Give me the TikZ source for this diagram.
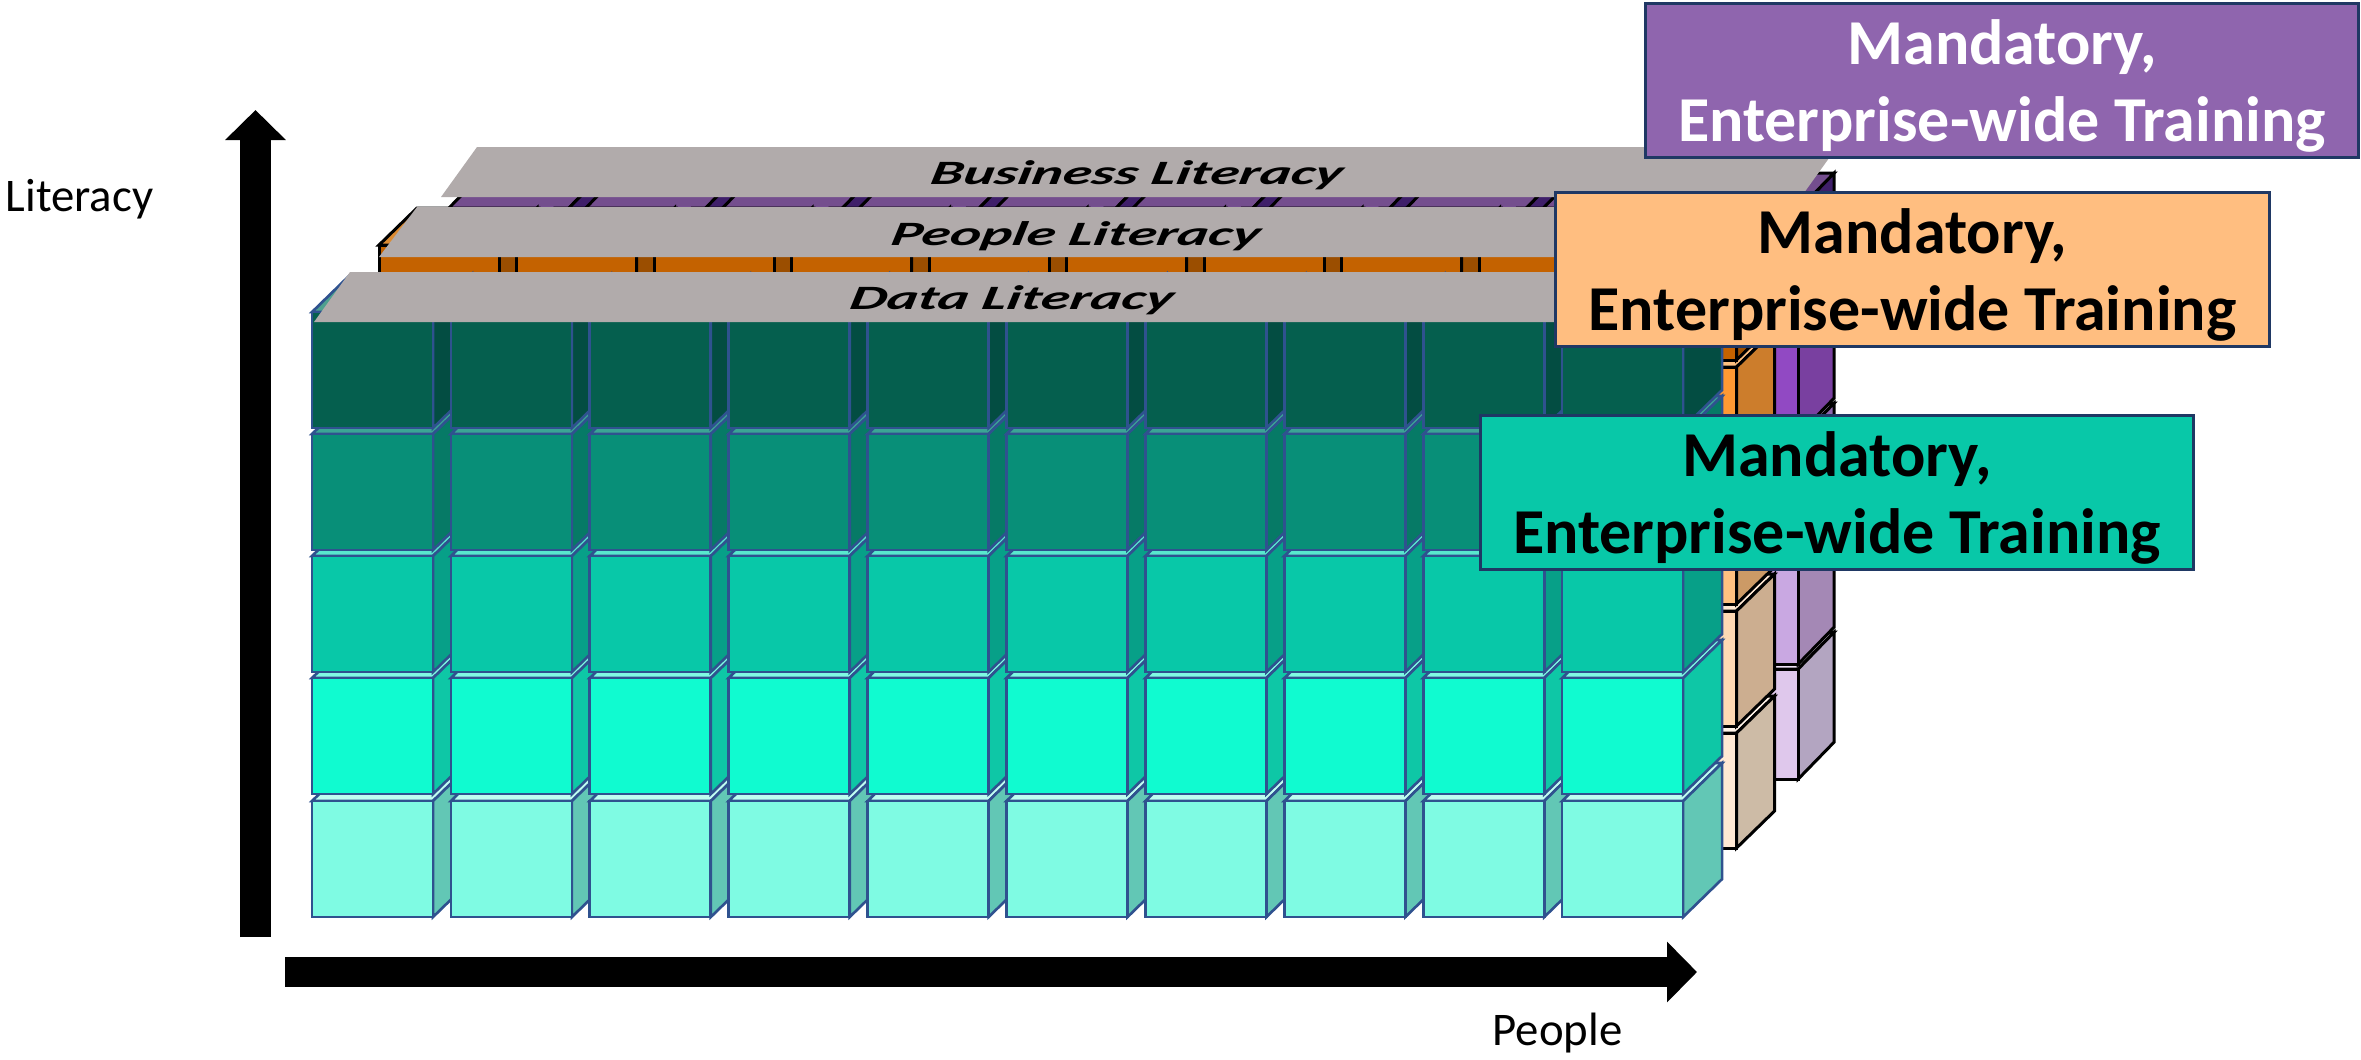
\documentclass[tikz,border=0pt]{standalone}
\usepackage{fontspec}
\setmainfont{Carlito}
\newfontface\platefont{Carlito Bold Italic}[FakeStretch=1.72,FakeSlant=0.2]
\usetikzlibrary{arrows.meta}
\definecolor{tealline}{HTML}{2F528F}
\definecolor{boxline}{HTML}{1F3864}
\definecolor{plategray}{HTML}{B1ABAB}
\definecolor{tfa}{HTML}{7FFBE3}\definecolor{tsa}{HTML}{62C7B5}\definecolor{tta}{HTML}{BFFDF1}
\definecolor{tfb}{HTML}{10FBD0}\definecolor{tsb}{HTML}{0EC7A6}\definecolor{ttb}{HTML}{7FFBE3}
\definecolor{tfc}{HTML}{08C8A8}\definecolor{tsc}{HTML}{07A088}\definecolor{ttc}{HTML}{58E8CE}
\definecolor{tfd}{HTML}{088F78}\definecolor{tsd}{HTML}{067A66}\definecolor{ttd}{HTML}{3BA595}
\definecolor{tfe}{HTML}{055F4E}\definecolor{tse}{HTML}{034D42}\definecolor{tte}{HTML}{4EA08F}
\definecolor{ofa}{HTML}{FFE8D3}\definecolor{osa}{HTML}{CDBBA6}\definecolor{ota}{HTML}{FFF3E8}
\definecolor{ofb}{HTML}{FFD9B3}\definecolor{osb}{HTML}{CCAE90}\definecolor{otb}{HTML}{FFE8D3}
\definecolor{ofc}{HTML}{FFC080}\definecolor{osc}{HTML}{CC9A66}\definecolor{otc}{HTML}{FFD9B3}
\definecolor{ofd}{HTML}{FF9933}\definecolor{osd}{HTML}{CC7D2C}\definecolor{otd}{HTML}{FFC080}
\definecolor{ofe}{HTML}{C46200}\definecolor{ose}{HTML}{9B4E00}\definecolor{ote}{HTML}{DB8B33}
\definecolor{pfa}{HTML}{DFC8EC}\definecolor{psa}{HTML}{B3A5C1}\definecolor{pta}{HTML}{EFE3F6}
\definecolor{pfb}{HTML}{C9A8E2}\definecolor{psb}{HTML}{A488B5}\definecolor{ptb}{HTML}{DFC8EC}
\definecolor{pfc}{HTML}{B07FD8}\definecolor{psc}{HTML}{8D66AD}\definecolor{ptc}{HTML}{C9A8E2}
\definecolor{pfd}{HTML}{9149C3}\definecolor{psd}{HTML}{7940A0}\definecolor{ptd}{HTML}{B07FD8}
\definecolor{pfe}{HTML}{5A2A87}\definecolor{pse}{HTML}{3F1F6A}\definecolor{pte}{HTML}{744E8E}
\definecolor{boxpurple}{HTML}{8F65AE}
\definecolor{boxorange}{HTML}{FFBE80}
\definecolor{boxteal}{HTML}{08C8A8}
\tikzset{
 plate/.style={fill=plategray,draw=none},
 platetext/.style={font=\fontsize{9.7}{10}\platefont,inner sep=0pt},
 trainbox/.style={draw=boxline,line width=0.9pt,minimum width=7.13cm,minimum height=1.54cm,inner sep=0pt,align=center,font=\fontsize{18.2}{21.8}\selectfont\bfseries},
 axisarrow/.style={line width=0.3cm,-{Triangle[length=0.3cm,width=0.59cm]}},
 axislabel/.style={font=\fontsize{13.3}{16}\selectfont,inner sep=0pt}
}
\newcommand{\traintext}{\rule{0pt}{16pt}Mandatory,\\Enterprise-wide Training}
% x0, pitch, width, height, dx, dy, line style, rows
\newcommand{\blocklayer}[8]{
 \foreach \col in {0,...,9}{
  \foreach \ytop/\frontc/\sidec/\topc in {#8}{
   \pgfmathsetmacro{\xl}{#1+\col*#2}
   \draw[#7,fill=\topc] (\xl,\ytop) -- ++(#5,-#6) -- ++(#3,0) -- ++(-#5,#6) -- cycle;
   \draw[#7,fill=\sidec] (\xl+#3,\ytop) -- ++(#5,-#6) -- ++(0,#4) -- ++(-#5,#6) -- cycle;
   \draw[#7,fill=\frontc] (\xl,\ytop) rectangle ++(#3,#4);
  }}}
\begin{document}
\begin{tikzpicture}[x=0.01cm,y=-0.01cm]
 \useasboundingbox (0,0) rectangle (2361,1059);
 % purple layer, back
 \blocklayer{447}{136.8}{120}{110}{36}{37}{draw=black,line width=0.85pt}{669/pfa/psa/pta,554/pfb/psb/ptb,440/pfc/psc/ptc,325/pfd/psd/ptd,210/pfe/pse/pte}
 \fill[plate] (477,147) -- (1837,147) -- (1801,197) -- (441,197) -- cycle;
 \node[platetext] (business) at (1135,175) {Business Literacy};
 % orange layer, middle
 \blocklayer{379}{137.5}{120}{115}{38}{37}{draw=black,line width=0.85pt}{733/ofa/osa/ota,611/ofb/osb/otb,489/ofc/osc/otc,367/ofd/osd/otd,245/ofe/ose/ote}
 \fill[plate] (417,207) -- (1790,207) -- (1752,257) -- (379,257) -- cycle;
 \node[platetext] (people) at (1074,236) {People Literacy};
 % teal layer, front
 \blocklayer{312}{138.9}{121}{116}{39}{38}{draw=tealline,line width=0.75pt}{801/tfa/tsa/tta,678/tfb/tsb/ttb,556/tfc/tsc/ttc,434/tfd/tsd/ttd,312/tfe/tse/tte}
 \fill[plate] (350,272) -- (1700,272) -- (1664,322) -- (314,322) -- cycle;
 \node[platetext] (data) at (1010,300) {Data Literacy};
 % axes
 \coordinate (ybottom) at (255.5,937);
 \coordinate (ytop) at (255.5,110);
 \coordinate (xleft) at (285,972);
 \coordinate (xright) at (1697,972);
 \draw[axisarrow] (ybottom) -- (ytop);
 \draw[axisarrow] (xleft) -- (xright);
 \node[axislabel,anchor=west] (literacy) at (5,199) {Literacy};
 \node[axislabel,anchor=west] (peoplelabel) at (1492,1033) {People};
 % training boxes
 \node[trainbox,fill=boxpurple,text=white] (boxbusiness) at (2002,80.5) {\traintext};
 \node[trainbox,fill=boxorange] (boxpeople) at (1912.5,269.5) {\traintext};
 \node[trainbox,fill=boxteal] (boxdata) at (1837,492.5) {\traintext};
\end{tikzpicture}
\end{document}
